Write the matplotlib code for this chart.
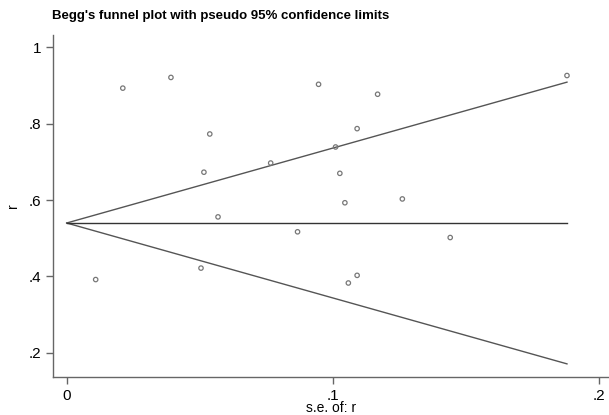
import numpy as np
import matplotlib
matplotlib.use("Agg")
import matplotlib.pyplot as plt

plt.rcParams['font.family'] = ['Liberation Sans', 'DejaVu Sans']

# study standard errors and effect sizes
se = [0.0109, 0.0211, 0.0392, 0.0538, 0.0516, 0.0569, 0.0767, 0.0868, 0.0947, 0.1011,
      0.1027, 0.1046, 0.1092, 0.1092, 0.1059, 0.1169, 0.1262, 0.1442, 0.1881, 0.0505]
r = [0.392, 0.893, 0.921, 0.773, 0.673, 0.556, 0.697, 0.517, 0.903, 0.739,
     0.670, 0.593, 0.787, 0.403, 0.383, 0.877, 0.603, 0.502, 0.926, 0.422]
pooled = 0.540

xticks = [0, 0.1, 0.2]
xtick_labels = ['0', '.1', '.2']
yticks = [0.2, 0.4, 0.6, 0.8, 1.0]
ytick_labels = ['.2', '.4', '.6', '.8', '1']

fig = plt.figure(figsize=(6.09, 4.15), dpi=100)
ax = fig.add_axes([0.087, 0.0916, 0.913, 0.824])

# pseudo 95% limits
se_line = np.array([0, max(se)])
line_col = '#555555'
ax.plot(se_line, pooled + 1.96 * se_line, color=line_col, lw=1)
ax.plot(se_line, pooled - 1.96 * se_line, color=line_col, lw=1)
ax.plot(se_line, [pooled, pooled], color='#333333', lw=1)

ax.scatter(se, r, s=10, facecolors='none', edgecolors='#777777', linewidths=0.9, zorder=3)

ax.set_xlim(-0.00515, 0.2039)
ax.set_ylim(0.137, 1.032)
ax.set_xticks(xticks)
ax.set_xticklabels(xtick_labels)
ax.set_yticks(yticks)
ax.set_yticklabels(ytick_labels)

for s in ['top', 'right']:
    ax.spines[s].set_visible(False)
for s in ['left', 'bottom']:
    ax.spines[s].set_color('#666666')
    ax.spines[s].set_linewidth(1)
ax.tick_params(direction='out', length=5, width=1, color='#666666', labelsize=11)

ax.set_xlabel('s.e. of: r', fontsize=10, labelpad=-1)
ax.set_ylabel('r', fontsize=10, labelpad=6)

fig.text(0.085, 0.962, "Begg's funnel plot with pseudo 95% confidence limits",
         fontsize=9.5, fontweight='bold', ha='left', va='center')

fig.savefig('out.png', dpi=100)
